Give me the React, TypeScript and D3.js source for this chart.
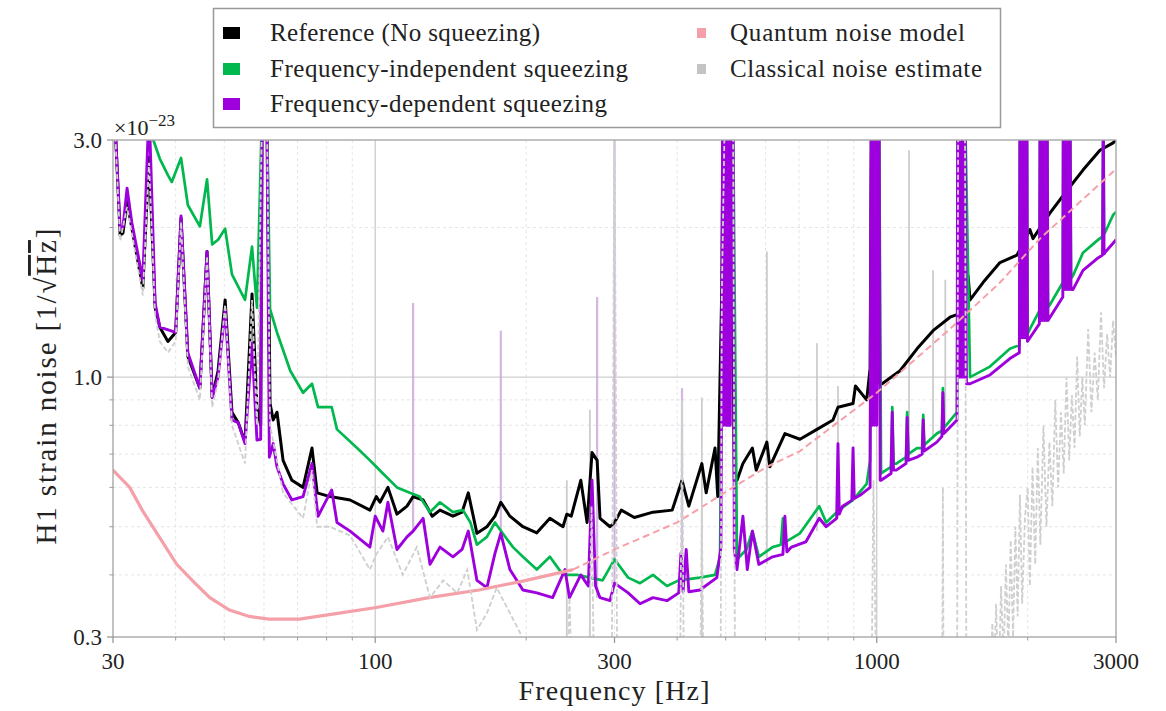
import React, { useEffect, useRef } from 'react';
import * as d3 from 'd3';

// strain noise: frequency in Hz, ASD in units of 1e-23 / sqrt(Hz)
const refFreq = [30, 30.3, 31.0, 31.4, 32.0, 32.7, 34.4, 35.4, 36.4, 37.2, 38.6, 40.0, 41.0, 42.3, 44.7, 46.2, 47.3, 48.6, 50.2, 51.8, 53.3, 55.0, 56.8, 58.1, 59.1, 59.5, 60.8, 61.7, 62.6, 63.7, 65.5, 68.2, 71.8, 74.8, 76.6, 81.2, 89.1, 97.6, 100.5, 102.2, 106, 110.5, 115.7, 119, 124.6, 129.9, 134.6, 142.9, 149, 153.3, 159.5, 167, 173.3, 178, 185.6, 197, 210, 223, 236.8, 241, 246, 257, 264.5, 270.6, 277, 280.7, 293.9, 300, 309.5, 328.6, 358, 391, 409, 422, 448, 457, 476, 482, 491, 494, 512, 520, 526.5, 541, 565, 575, 604, 612, 656, 703, 760, 818, 837, 897, 907, 955, 970, 976, 1008, 1014, 1025, 1113, 1203, 1295, 1400, 1487, 1521, 1535, 1629, 1761, 1904, 2021, 2049, 2216, 2400, 2578, 2787, 2960, 3000];
const refAsd = [3.5, 3.2, 1.93, 1.95, 2.25, 2.0, 1.51, 2.77, 1.38, 1.26, 1.18, 1.23, 2.09, 1.1, 0.95, 1.79, 0.91, 1.03, 1.43, 0.85, 0.81, 0.74, 1.47, 0.87, 0.8, 3.5, 3.5, 0.885, 0.82, 0.85, 0.68, 0.62, 0.6, 0.72, 0.585, 0.575, 0.566, 0.54, 0.575, 0.56, 0.6, 0.53, 0.55, 0.575, 0.566, 0.525, 0.54, 0.525, 0.535, 0.585, 0.485, 0.5, 0.525, 0.56, 0.525, 0.5, 0.486, 0.52, 0.5, 0.53, 0.525, 0.62, 0.51, 0.705, 0.68, 0.52, 0.5, 0.51, 0.54, 0.522, 0.535, 0.54, 0.62, 0.55, 0.67, 0.585, 0.72, 0.575, 1.52, 3.5, 3.5, 0.62, 0.62, 0.67, 0.72, 0.65, 0.74, 0.66, 0.77, 0.75, 0.785, 0.82, 0.87, 0.885, 0.96, 0.9, 1.04, 3.5, 3.5, 0.97, 0.97, 1.03, 1.14, 1.24, 1.32, 1.35, 1.6, 1.43, 1.55, 1.7, 1.76, 1.98, 1.9, 2.14, 2.38, 2.61, 2.86, 2.96, 3.0];

const fisFreq = [30, 34.4, 35.4, 36.1, 37.2, 38.6, 39.3, 41.0, 42.3, 44.7, 46.2, 47.3, 48.6, 50.2, 51.8, 55.0, 56.8, 58.1, 59.5, 60.8, 61.7, 63.7, 67.7, 71.8, 74.8, 76.9, 81.9, 83.9, 92.0, 97.6, 100.5, 103.6, 110.5, 117.2, 122.6, 128.6, 134.6, 142.9, 149.6, 154.8, 159.5, 167, 173.3, 179.5, 188.2, 197, 210, 223, 236.8, 252.6, 268, 284, 300, 319.4, 337.3, 358, 381.7, 403, 444, 476, 487, 491, 498, 517, 526.5, 550, 565, 582, 620, 644, 650, 656, 703, 768, 793, 840, 897, 955, 970, 977, 1011, 1020, 1068, 1074, 1080, 1094, 1144, 1150, 1156, 1203, 1232, 1238, 1244, 1318, 1349, 1355, 1361, 1446, 1453, 1500, 1535, 1682, 1843, 1925, 1930, 1993, 1998, 2021, 2110, 2117, 2187, 2195, 2216, 2350, 2355, 2430, 2440, 2462, 2578, 2747, 2820, 2830, 2840, 2850, 2960, 3000];
const fisAsd = [5.5, 3.9, 4.6, 3.0, 2.75, 2.55, 2.47, 2.76, 2.22, 2.01, 2.5, 1.85, 1.89, 1.99, 1.61, 1.43, 1.83, 1.38, 3.5, 3.5, 1.37, 1.23, 1.03, 0.93, 0.97, 0.87, 0.87, 0.785, 0.72, 0.68, 0.66, 0.64, 0.6, 0.585, 0.575, 0.535, 0.56, 0.535, 0.54, 0.51, 0.46, 0.477, 0.51, 0.485, 0.455, 0.435, 0.41, 0.435, 0.4, 0.4, 0.395, 0.39, 0.43, 0.395, 0.385, 0.4, 0.38, 0.39, 0.395, 0.4, 0.435, 0.97, 3.5, 3.5, 0.43, 0.45, 0.49, 0.435, 0.455, 0.46, 0.52, 0.465, 0.485, 0.55, 0.51, 0.54, 0.566, 0.61, 0.68, 3.5, 3.5, 0.64, 0.66, 0.87, 0.67, 0.67, 0.69, 0.85, 0.7, 0.72, 0.72, 0.84, 0.73, 0.77, 0.78, 0.95, 0.79, 0.85, 3.5, 3.5, 1.0, 1.05, 1.14, 1.16, 3.5, 3.5, 1.22, 1.25, 1.36, 3.5, 3.5, 1.38, 1.4, 1.55, 3.5, 3.5, 1.58, 1.6, 1.78, 1.88, 1.92, 3.5, 1.94, 1.95, 2.12, 2.15];

const fdsFreq = [30, 30.3, 31.0, 31.4, 32.0, 32.7, 34.4, 35.4, 36.4, 37.2, 40.0, 41.0, 42.3, 44.7, 46.2, 47.3, 48.6, 50.2, 51.8, 53.3, 55.0, 56.8, 58.1, 59.1, 59.5, 60.8, 61.5, 62.6, 63.7, 65.5, 68.2, 71.8, 74.8, 76.9, 81.9, 83.9, 89.1, 97.6, 100, 103.6, 106, 110.5, 115.7, 119, 124.6, 128.6, 134.6, 142.9, 149, 153.3, 159.5, 167, 173.3, 178, 185.6, 197, 210, 225.8, 239, 244, 257, 266, 270.6, 275, 280.7, 293.9, 300, 319.4, 337.3, 358, 381.7, 403, 407, 411, 417, 422, 444, 480, 489,
  493, 495.5, 498, 500.5, 503, 505.5, 508, 510.5, 513, 517, 520, 526.5,
  541, 552, 565, 582, 620, 650, 656, 662, 676, 722, 768, 793, 832, 837, 842, 855, 892, 897, 902, 930, 970,
  975, 980, 985, 990, 995, 1000, 1005, 1011, 1016, 1020,
  1068, 1074, 1080, 1094, 1144, 1150, 1156, 1203, 1232, 1238, 1244, 1318, 1349, 1355, 1361, 1446,
  1450, 1456, 1462, 1468, 1475, 1481, 1488, 1494, 1500, 1510,
  1535, 1682, 1843, 1925,
  1930, 1938, 1945, 1952, 1960, 1967, 1975, 1984, 1993, 1998,
  2021, 2110,
  2117, 2126, 2135, 2143, 2150, 2160, 2170, 2178, 2187, 2195,
  2216, 2350,
  2355, 2365, 2375, 2383, 2392, 2401, 2410, 2420, 2430, 2440,
  2462, 2578, 2747, 2820, 2830, 2840, 2850, 2960, 3000];
const fdsAsd = [3.5, 3.2, 1.99, 2.0, 2.4, 2.05, 1.57, 3.5, 1.41, 1.26, 1.23, 2.11, 1.12, 0.95, 1.79, 0.91, 1.0, 1.37, 0.82, 0.81, 0.735, 1.17, 0.747, 0.75, 3.5, 3.5, 0.69, 0.735, 0.66, 0.61, 0.566, 0.575, 0.67, 0.525, 0.593, 0.51, 0.49, 0.455, 0.525, 0.49, 0.56, 0.45, 0.477, 0.49, 0.52, 0.42, 0.455, 0.435, 0.45, 0.49, 0.39, 0.377, 0.442, 0.485, 0.41, 0.373, 0.368, 0.36, 0.41, 0.36, 0.4, 0.38, 0.62, 0.38, 0.36, 0.355, 0.385, 0.368, 0.35, 0.36, 0.355, 0.368, 0.442, 0.37, 0.45, 0.37, 0.373, 0.395, 0.455,
  3.5, 0.8, 3.5, 0.8, 3.5, 0.8, 3.5, 0.8, 3.5, 3.5, 0.45, 0.41,
  0.525, 0.41, 0.49, 0.42, 0.435, 0.44, 0.525, 0.445, 0.455, 0.466, 0.52, 0.5, 0.52, 0.735, 0.53, 0.55, 0.565, 0.72, 0.57, 0.58, 0.6,
  3.5, 0.8, 3.5, 0.8, 3.5, 0.8, 3.5, 3.5, 0.62, 0.62,
  0.64, 0.85, 0.65, 0.65, 0.67, 0.83, 0.68, 0.69, 0.7, 0.82, 0.71, 0.74, 0.76, 0.93, 0.77, 0.82,
  3.5, 1.0, 3.5, 1.0, 3.5, 1.0, 3.5, 1.0, 3.5, 0.97,
  0.97, 1.01, 1.09, 1.12,
  3.5, 1.2, 3.5, 1.2, 3.5, 1.2, 3.5, 1.2, 3.5, 1.18,
  1.2, 1.28,
  3.5, 1.3, 3.5, 1.3, 3.5, 1.3, 3.5, 1.3, 3.5, 1.3,
  1.32, 1.45,
  3.5, 1.5, 3.5, 1.5, 3.5, 1.5, 3.5, 1.5, 3.5, 1.5,
  1.5, 1.64, 1.73, 1.76, 3.5, 1.77, 1.78, 1.86, 1.89];

const qnFreq = [30, 32.4, 34.3, 37.2, 40.2, 43.6, 46.8, 51.2, 56.1, 61.4, 70.6, 84.8, 100.5, 128, 161, 200, 248, 300, 400, 517, 604, 703, 1000, 1400, 1761, 2117, 2504, 2960, 3000];
const qnAsd = [0.65, 0.6, 0.54, 0.475, 0.42, 0.386, 0.36, 0.34, 0.33, 0.326, 0.326, 0.335, 0.344, 0.36, 0.373, 0.39, 0.41, 0.45, 0.51, 0.6, 0.66, 0.71, 0.93, 1.25, 1.55, 1.9, 2.22, 2.59, 2.63];

const cnFreq = [30, 30.3, 31.0, 32.0, 32.7, 34.4, 35.4, 36.4, 37.2, 38.6, 40.0, 41.0, 42.3, 44.7, 46.2, 47.3, 48.6, 50.2, 51.8, 55.0, 56.8, 58.1, 59.5, 60.8, 61.7, 65.5, 71.8, 74.8, 76.6, 81.2, 89.1, 97.6, 100.5, 106, 113.5, 121, 128.6, 136.6, 145.7, 152.6, 159.5, 167, 174.7, 185.6, 194.5, 205, 230, 240, 244, 248, 266, 270, 274, 296, 300, 304, 405, 409, 413, 444, 448, 452, 488, 491, 498, 517, 522, 975, 985, 1000, 1014, 1350, 1355, 1360, 1446, 1453, 1500, 1510, 1680, 1700, 1715, 1730, 1750, 1770, 1790, 1810, 1830, 1850, 1870, 1890, 1910, 1930, 1950, 1975, 2000, 2020, 2045, 2070, 2095, 2120, 2150, 2180, 2210, 2240, 2270, 2300, 2330, 2360, 2390, 2420, 2450, 2480, 2510, 2540, 2570, 2600, 2640, 2680, 2720, 2760, 2800, 2840, 2880, 2920, 2960, 3000];
const cnAsd = [3.5, 3.1, 1.88, 2.2, 1.95, 1.46, 2.7, 1.33, 1.18, 1.12, 1.18, 2.05, 1.05, 0.9, 1.75, 0.87, 0.98, 1.4, 0.8, 0.67, 1.43, 0.8, 3.5, 3.5, 0.8, 0.585, 0.52, 0.65, 0.5, 0.5, 0.48, 0.41, 0.44, 0.477, 0.4, 0.455, 0.36, 0.39, 0.368, 0.41, 0.31, 0.335, 0.377, 0.335, 0.306, 0.25, 0.2, 0.2, 0.36, 0.2, 0.2, 0.55, 0.2, 0.2, 3.5, 0.2, 0.2, 0.9, 0.2, 0.2, 0.55, 0.2, 0.2, 1.45, 3.5, 3.5, 0.2, 0.2, 0.62, 0.2, 0.2, 0.2, 0.6, 0.2, 0.2, 3.0, 3.0, 0.2, 0.2, 0.32, 0.25, 0.35, 0.24, 0.38, 0.27, 0.42, 0.28, 0.47, 0.3, 0.5, 0.33, 0.58, 0.35, 0.52, 0.6, 0.38, 0.66, 0.42, 0.72, 0.46, 0.8, 0.5, 0.74, 0.55, 0.9, 0.6, 0.85, 0.64, 1.0, 0.68, 0.92, 0.72, 1.1, 0.76, 1.0, 0.8, 1.25, 0.85, 1.12, 0.9, 1.35, 0.95, 1.22, 1.0, 1.3, 1.1];

// faint raw-spectrum lines: frequency, foot, top
const paleFdsFreq = [119, 178, 277, 300, 409];
const paleFdsBase = [0.49, 0.48, 0.36, 0.38, 0.37];
const paleFdsTop = [1.41, 1.24, 1.45, 3.5, 0.95];
const paleCnFreq = [241, 268, 448, 604, 760, 837, 1160, 1295, 1370];
const paleCnBase = [0.2, 0.2, 0.2, 0.42, 0.49, 0.52, 0.7, 0.75, 0.8];
const paleCnTop = [0.62, 0.86, 0.91, 1.79, 1.17, 0.96, 2.86, 1.64, 1.57];

const xTickVals = [30, 100, 300, 1000, 3000];
const xMinorVals = [40, 50, 60, 70, 80, 90, 200, 400, 500, 600, 700, 800, 900, 2000];
const xMajorGrid = [100, 1000];
const yTickVals = [0.3, 1.0, 3.0];
const yMinorVals = [0.4, 0.5, 0.6, 0.7, 0.8, 0.9, 2.0];
const yMajorGrid = [1.0];

const legendLeft = ['Reference (No squeezing)', 'Frequency-independent squeezing', 'Frequency-dependent squeezing'];
const legendRight = ['Quantum noise model', 'Classical noise estimate'];

const C_REF = '#000000';
const C_FIS = '#00b84d';
const C_FDS = '#9d00dc';
const C_QN = '#f5a0a8';
const C_CN = '#cfcfcf';
const FONT = '"Liberation Serif", "DejaVu Serif", serif';

const pairs = (f: number[], v: number[]) =>
  d3.range(Math.min(f.length, v.length)).map(i => [f[i], v[i]] as [number, number]);

const App = () => {
  const ref = useRef<SVGSVGElement>(null);

  useEffect(() => {
    document.body.style.margin = '0';
    const svg = d3.select(ref.current);
    svg.selectAll('*').remove();

    const x0 = 113, x1 = 1116, y0 = 140, y1 = 637;
    const x = d3.scaleLog().domain([30, 3000]).range([x0, x1]);
    const y = d3.scaleLog().domain([0.3, 3.0]).range([y1, y0]);

    svg.append('rect').attr('width', 1166).attr('height', 711).attr('fill', '#fff');

    svg.append('defs').append('clipPath').attr('id', 'plotclip')
      .append('rect').attr('x', x0).attr('y', y0).attr('width', x1 - x0).attr('height', y1 - y0);

    // grid
    const grid = svg.append('g');
    xMinorVals.concat([300]).forEach(f => {
      grid.append('line').attr('x1', x(f)).attr('x2', x(f)).attr('y1', y0).attr('y2', y1)
        .attr('stroke', '#dedede').attr('stroke-width', 0.8).attr('stroke-dasharray', '3,3');
    });
    yMinorVals.forEach(v => {
      grid.append('line').attr('x1', x0).attr('x2', x1).attr('y1', y(v)).attr('y2', y(v))
        .attr('stroke', '#dedede').attr('stroke-width', 0.8).attr('stroke-dasharray', '3,3');
    });
    xMajorGrid.forEach(f => {
      grid.append('line').attr('x1', x(f)).attr('x2', x(f)).attr('y1', y0).attr('y2', y1)
        .attr('stroke', '#cfcfcf').attr('stroke-width', 1.4);
    });
    yMajorGrid.forEach(v => {
      grid.append('line').attr('x1', x0).attr('x2', x1).attr('y1', y(v)).attr('y2', y(v))
        .attr('stroke', '#cfcfcf').attr('stroke-width', 1.4);
    });

    const plot = svg.append('g').attr('clip-path', 'url(#plotclip)');
    const line = d3.line<[number, number]>().x(d => x(d[0])).y(d => y(d[1]));

    // faint spikes underneath
    paleFdsFreq.forEach((f, i) => {
      plot.append('line').attr('x1', x(f)).attr('x2', x(f))
        .attr('y1', y(paleFdsBase[i])).attr('y2', y(paleFdsTop[i]))
        .attr('stroke', '#c9a6dc').attr('stroke-width', 2.2).attr('opacity', 0.8);
    });
    paleCnFreq.forEach((f, i) => {
      plot.append('line').attr('x1', x(f)).attr('x2', x(f))
        .attr('y1', y(paleCnBase[i])).attr('y2', y(paleCnTop[i]))
        .attr('stroke', '#c8c8c8').attr('stroke-width', 1.8).attr('opacity', 0.9);
    });

    const series = [
      { f: refFreq, v: refAsd, c: C_REF, w: 3 },
      { f: fisFreq, v: fisAsd, c: C_FIS, w: 2.7 },
      { f: fdsFreq, v: fdsAsd, c: C_FDS, w: 2.9 },
    ];
    series.forEach(s => {
      plot.append('path').attr('d', line(pairs(s.f, s.v)))
        .attr('fill', 'none').attr('stroke', s.c).attr('stroke-width', s.w)
        .attr('stroke-linejoin', 'round');
    });

    // quantum noise model: solid band at low f, dashed above
    const qn = pairs(qnFreq, qnAsd);
    plot.append('path').attr('d', line(qn.filter(d => d[0] <= 248)))
      .attr('fill', 'none').attr('stroke', C_QN).attr('stroke-width', 3.2);
    plot.append('path').attr('d', line(qn.filter(d => d[0] >= 248)))
      .attr('fill', 'none').attr('stroke', C_QN).attr('stroke-width', 2)
      .attr('stroke-dasharray', '7,4');

    // classical noise estimate
    plot.append('path').attr('d', line(pairs(cnFreq, cnAsd)))
      .attr('fill', 'none').attr('stroke', C_CN).attr('stroke-width', 1.8)
      .attr('stroke-dasharray', '5,2.5');

    // frame
    svg.append('rect').attr('x', x0).attr('y', y0).attr('width', x1 - x0).attr('height', y1 - y0)
      .attr('fill', 'none').attr('stroke', '#a9a9a9').attr('stroke-width', 1.4);

    // ticks
    const ax = svg.append('g').attr('stroke', '#9a9a9a');
    xTickVals.forEach(f => {
      ax.append('line').attr('x1', x(f)).attr('x2', x(f)).attr('y1', y1).attr('y2', y1 + 6).attr('stroke-width', 1.3);
    });
    xMinorVals.forEach(f => {
      ax.append('line').attr('x1', x(f)).attr('x2', x(f)).attr('y1', y1).attr('y2', y1 + 3.5).attr('stroke-width', 1);
    });
    yTickVals.forEach(v => {
      ax.append('line').attr('x1', x0 - 6).attr('x2', x0).attr('y1', y(v)).attr('y2', y(v)).attr('stroke-width', 1.3);
    });
    yMinorVals.forEach(v => {
      ax.append('line').attr('x1', x0 - 3.5).attr('x2', x0).attr('y1', y(v)).attr('y2', y(v)).attr('stroke-width', 1);
    });

    const txt = svg.append('g').attr('font-family', FONT).attr('fill', '#222');
    xTickVals.forEach(f => {
      txt.append('text').attr('x', x(f)).attr('y', y1 + 32).attr('text-anchor', 'middle')
        .attr('font-size', 23).text(String(f));
    });
    yTickVals.forEach(v => {
      txt.append('text').attr('x', x0 - 11).attr('y', y(v)).attr('dy', '0.35em').attr('text-anchor', 'end')
        .attr('font-size', 23).text(v.toFixed(1));
    });

    // offset multiplier
    const mult = txt.append('text').attr('x', x0 + 1).attr('y', y0 - 5).attr('font-size', 22);
    mult.append('tspan').text('×10');
    mult.append('tspan').attr('dy', -9).attr('font-size', 17).text('−23');

    // axis labels
    txt.append('text').attr('x', 614).attr('y', 700).attr('text-anchor', 'middle')
      .attr('font-size', 28).attr('textLength', 191).attr('lengthAdjust', 'spacing').text('Frequency [Hz]');
    const yl = txt.append('text')
      .attr('transform', `translate(56,${(y0 + y1) / 2 - 2}) rotate(-90)`)
      .attr('text-anchor', 'middle').attr('font-size', 29)
      .attr('textLength', 316).attr('lengthAdjust', 'spacing');
    yl.append('tspan').text('H1 strain noise [1/√');
    yl.append('tspan').attr('text-decoration', 'overline').text('Hz');
    yl.append('tspan').text(']');

    // legend
    const lg = svg.append('g').attr('font-family', FONT).attr('fill', '#222');
    lg.append('rect').attr('x', 213.5).attr('y', 8.5).attr('width', 787).attr('height', 119)
      .attr('fill', '#fff').attr('stroke', '#999').attr('stroke-width', 1.5);
    const rows = [33, 69, 104];
    const leftLen = [270, 358, 337];
    const rightLen = [235, 252];
    [C_REF, C_FIS, C_FDS].forEach((c, i) => {
      lg.append('rect').attr('x', 223).attr('y', rows[i] - 6).attr('width', 17).attr('height', 12).attr('fill', c);
      lg.append('text').attr('x', 270).attr('y', rows[i]).attr('dy', '0.33em').attr('font-size', 25)
        .attr('textLength', leftLen[i]).attr('lengthAdjust', 'spacing').text(legendLeft[i]);
    });
    [C_QN, '#c4c4c4'].forEach((c, i) => {
      lg.append('rect').attr('x', 697).attr('y', rows[i] - 5).attr('width', 9).attr('height', 10).attr('fill', c);
      lg.append('text').attr('x', 730).attr('y', rows[i]).attr('dy', '0.33em').attr('font-size', 25)
        .attr('textLength', rightLen[i]).attr('lengthAdjust', 'spacing').text(legendRight[i]);
    });
  }, []);

  return <svg ref={ref} width={1166} height={711} style={{ display: 'block' }} />;
};

export default App;
